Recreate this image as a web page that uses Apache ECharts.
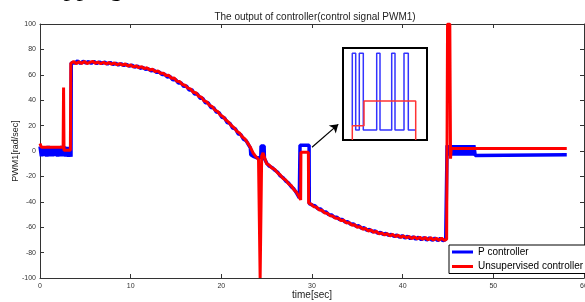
<!DOCTYPE html>
<html lang="en">
<head>
    <meta charset="UTF-8">
    <title>The output of controller</title>
    <script src="https://cdnjs.cloudflare.com/ajax/libs/echarts/6.0.0/echarts.min.js"></script>
    <style>
        * { margin: 0; padding: 0; }
        body { background: #fff; }
        #chart { width: 585px; height: 302px; }
    </style>
</head>
<body>
    <div id="chart"></div>
    <script>
        // x ticks / y ticks
        const xTicks = [0, 10, 20, 30, 40, 50, 60];
        const yTicks = [-100, -80, -60, -40, -20, 0, 20, 40, 60, 80, 100];

        // P controller output [time, PWM1]
        const pController = [
            [0, 3.5], [0.15, -4.2], [0.3, 3.8], [0.45, -4], [0.6, 3.6], [0.75, -4.3], [0.9, 3.9], [1.05, -4.1],
            [1.2, 3.5], [1.35, -4.2], [1.5, 3.7], [1.65, -4], [1.8, 3.8], [1.95, -4.3], [2.1, 3.6], [2.25, -4.1],
            [2.4, 3.9], [2.55, -4.2], [2.7, 3.5], [2.85, -4.4], [3.0, 3.2], [3.15, -4.6], [3.3, 3.0], [3.42, -4.5],
            [3.45, 69.5], [3.55, 70.8], [3.85, 69.3], [4.15, 70.9], [4.45, 68.9], [4.75, 70.6], [5.05, 69.4],
            [5.35, 70.3], [5.65, 69.0], [5.95, 70.5], [6.25, 68.9], [6.55, 70.1], [6.85, 69.0], [7.15, 69.9],
            [7.45, 68.5], [7.75, 69.7], [8.05, 68.2], [8.35, 69.0], [8.65, 67.8], [8.95, 68.7], [9.25, 67.4],
            [9.55, 68.2], [9.85, 66.9], [10.15, 67.5], [10.45, 66.1], [10.75, 66.8], [11.05, 65.2], [11.35, 65.8],
            [11.65, 64.3], [11.95, 64.7], [12.25, 63.2], [12.55, 63.6], [12.85, 61.9], [13.15, 62.2], [13.45, 60.3],
            [13.75, 60.5], [14.05, 58.3], [14.35, 58.6], [14.65, 56.0], [14.95, 56.3], [15.25, 53.6], [15.55, 53.8],
            [15.85, 50.9], [16.15, 51.1], [16.45, 48.0], [16.75, 48.2], [17.05, 44.9], [17.35, 45.0], [17.65, 41.6],
            [17.95, 41.5], [18.25, 38.0], [18.55, 37.9], [18.85, 34.3], [19.15, 34.1], [19.45, 30.6], [19.75, 30.2],
            [20.05, 26.6], [20.35, 26.1], [20.65, 22.4], [20.95, 21.8], [21.25, 18.0], [21.55, 17.5], [21.85, 13.6],
            [22.15, 12.9], [22.45, 9.2], [22.75, 8.0], [23.05, 4.2], [23.2, 2.5], [23.25, -3], [23.6, -4.5],
            [24.0, -5.5], [24.35, -5], [24.38, 4], [24.72, 4], [24.75, -6], [25.0, -9.5], [25.3, -12.0],
            [25.6, -13.0], [25.9, -15.1], [26.2, -16.6], [26.5, -19.6], [26.8, -21.0], [27.1, -23.6], [27.4, -25.1],
            [27.7, -28.0], [28.0, -29.8], [28.3, -33.2], [28.6, -36.8], [28.66, -38], [28.68, 4.5], [29.68, 4.5],
            [29.7, -41.5], [30.05, -42.6], [30.35, -43.3], [30.65, -45.4], [30.95, -45.7], [31.25, -47.8],
            [31.55, -48.1], [31.85, -50.1], [32.15, -50.3], [32.45, -52.2], [32.75, -52.2], [33.05, -54.0],
            [33.35, -53.9], [33.65, -55.9], [33.95, -55.7], [34.25, -57.6], [34.55, -57.4], [34.85, -59.3],
            [35.15, -58.9], [35.45, -60.9], [35.75, -60.4], [36.05, -62.4], [36.35, -61.8], [36.65, -63.6],
            [36.95, -62.9], [37.25, -64.8], [37.55, -64.0], [37.85, -65.7], [38.15, -64.9], [38.45, -66.5],
            [38.75, -65.6], [39.05, -67.2], [39.35, -66.2], [39.65, -67.9], [39.95, -66.7], [40.25, -68.5],
            [40.55, -67.2], [40.85, -69.0], [41.15, -67.6], [41.45, -69.4], [41.75, -67.9], [42.05, -69.8],
            [42.35, -68.2], [42.65, -70.1], [42.95, -68.4], [43.25, -70.3], [43.55, -68.6], [43.85, -70.5],
            [44.15, -68.8], [44.45, -70.6], [44.75, -69.6], [44.9, 4.5],
            [45.0, -3.5], [45.15, 4.5], [45.3, -3.5], [45.45, 4.5], [45.6, -3.5], [45.75, 4.5], [45.9, -3.5],
            [46.05, 4.5], [46.2, -3.5], [46.35, 4.5], [46.5, -3.5], [46.65, 4.5], [46.8, -3.5], [46.95, 4.5],
            [47.1, -3.5], [47.25, 4.5], [47.4, -3.5], [47.55, 4.5], [47.7, -3.5], [47.85, 4.5], [48.0, -3.5],
            [48.1, -2.9], [58.1, -2.9]
        ];

        // Unsupervised controller output [time, PWM1]
        const unsupervised = [
            [0, 6], [0.15, 3], [2.55, 3], [2.6, 50], [2.65, 0.5], [3.35, 0.5],
            [3.4, 69], [3.7, 70.5], [4.0, 68.8], [4.3, 70.2], [4.6, 69.0], [4.9, 70.4], [5.2, 68.9], [5.5, 69.8],
            [5.8, 70.6], [6.1, 69.1], [6.4, 70.0], [6.7, 68.7], [7.0, 69.9], [7.3, 68.6], [7.6, 69.6], [7.9, 68.3],
            [8.2, 69.4], [8.5, 67.9], [8.8, 68.8], [9.1, 67.6], [9.4, 68.5], [9.7, 66.9], [10.0, 67.8], [10.3, 66.2],
            [10.6, 67.1], [10.9, 65.6], [11.2, 66.4], [11.5, 64.9], [11.8, 65.5], [12.1, 63.8], [12.4, 64.4],
            [12.7, 62.5], [13.0, 63.1], [13.3, 61.2], [13.6, 61.3], [13.9, 59.4], [14.2, 59.6], [14.5, 57.2],
            [14.8, 57.4], [15.1, 55.0], [15.4, 54.8], [15.7, 52.4], [16.0, 51.8], [16.3, 49.5], [16.6, 48.9],
            [16.9, 46.3], [17.2, 45.9], [17.5, 43.1], [17.8, 42.4], [18.1, 39.5], [18.4, 38.6], [18.7, 35.9],
            [19.0, 34.9], [19.3, 32.2], [19.6, 31.1], [19.9, 28.3], [20.2, 27.0], [20.5, 24.4], [20.8, 22.7],
            [21.1, 20.1], [21.4, 18.4], [21.7, 15.6], [22.0, 14.2], [22.3, 11.2], [22.6, 9.5], [22.9, 6.4],
            [23.2, 3.0], [23.5, -1.5], [23.8, -4.5], [24.1, -6.5], [24.25, -8], [24.28, -100], [24.4, -100],
            [24.45, -4], [24.6, -1.5], [24.75, -5], [25.0, -10], [25.3, -11.2], [25.6, -13.5], [25.9, -14.4],
            [26.2, -17.2], [26.5, -18.9], [26.8, -21.6], [27.1, -22.8], [27.4, -25.7], [27.7, -27.1], [28.0, -30.4],
            [28.3, -32.6], [28.6, -36.5], [28.75, -38.5], [28.78, -1], [29.6, -1], [29.63, -41], [29.9, -41.8],
            [30.2, -43.9], [30.5, -44.2], [30.8, -46.4], [31.1, -46.7], [31.4, -48.8], [31.7, -49.0], [32.0, -51.0],
            [32.3, -51.2], [32.6, -53.0], [32.9, -52.9], [33.2, -54.8], [33.5, -54.6], [33.8, -56.7], [34.1, -56.4],
            [34.4, -58.4], [34.7, -58.0], [35.0, -60.1], [35.3, -59.6], [35.6, -61.6], [35.9, -61.0], [36.2, -63.0],
            [36.5, -62.2], [36.8, -64.1], [37.1, -63.3], [37.4, -65.2], [37.7, -64.5], [38.0, -66.1], [38.3, -65.0],
            [38.6, -66.8], [38.9, -65.7], [39.2, -67.4], [39.5, -66.3], [39.8, -68.0], [40.1, -66.8], [40.4, -68.4],
            [40.7, -67.3], [41.0, -68.9], [41.3, -67.6], [41.6, -69.2], [41.9, -67.9], [42.2, -69.6], [42.5, -68.1],
            [42.8, -70.0], [43.1, -68.3], [43.4, -70.1], [43.7, -68.6], [44.0, -70.3], [44.3, -68.7], [44.6, -70.4],
            [44.85, -69.5], [44.95, 100], [45.2, 100], [45.28, -6], [45.35, 2], [58.1, 2]
        ];

        // zoomed detail shown in the inset (relative units)
        const insetP = [
            [9.3, 0.155], [9.3, 0.942], [12.7, 0.942], [12.7, 0.109], [16.3, 0.109], [16.3, 0.942], [20.3, 0.942],
            [20.3, 0.109], [33.7, 0.109], [33.7, 0.942], [37, 0.942], [37, 0.109], [48.7, 0.109], [48.7, 0.942],
            [52, 0.942], [52, 0.109], [61, 0.109], [61, 0.942], [65.3, 0.942], [65.3, 0.109], [72, 0.109]
        ];
        const insetU = [[9.3, 0], [9.3, 0.155], [21, 0.155], [21, 0.424], [72.7, 0.424], [72.7, 0]];

        // arrow pointing at the inset
        const arrowFrom = [30.0, 3];
        const arrowTo = [32.9, 21];

        const font = 'Arial, "Liberation Sans", sans-serif';
        const chart = echarts.init(document.getElementById('chart'));

        const mainX = (pos, labels) => ({
            type: 'value', gridIndex: 0, position: pos,
            min: xTicks[0], max: xTicks[xTicks.length - 1], interval: 10,
            axisLine: { show: true, onZero: false, lineStyle: { color: '#333', width: 1 } },
            axisTick: { show: true, inside: true, length: 4, lineStyle: { color: '#333' } },
            axisLabel: { show: labels, fontSize: 7, color: '#333', margin: 5, fontFamily: font },
            splitLine: { show: false }
        });
        const mainY = (pos, labels) => ({
            type: 'value', gridIndex: 0, position: pos,
            min: yTicks[0], max: yTicks[yTicks.length - 1], interval: 20,
            axisLine: { show: true, onZero: false, lineStyle: { color: '#333', width: 1 } },
            axisTick: { show: true, inside: true, length: 4, lineStyle: { color: '#333' } },
            axisLabel: { show: labels, fontSize: 7, color: '#333', margin: 4, fontFamily: font },
            splitLine: { show: false }
        });

        const xMain = mainX('bottom', true);
        xMain.name = 'time[sec]';
        xMain.nameLocation = 'middle';
        xMain.nameGap = 12;
        xMain.nameMoveOverlap = false;
        xMain.nameTextStyle = { fontSize: 10, color: '#222', fontFamily: font };
        const yMain = mainY('left', true);
        yMain.name = 'PWM1[rad/sec]';
        yMain.nameLocation = 'middle';
        yMain.nameGap = 20;
        yMain.nameMoveOverlap = false;
        yMain.nameTextStyle = { fontSize: 9, color: '#222', fontFamily: font };

        chart.setOption({
            animation: false,
            backgroundColor: '#fff',
            title: {
                text: 'The output of controller(control signal PWM1)',
                left: 310, top: 7, textAlign: 'center',
                textStyle: { fontSize: 10, fontWeight: 'normal', color: '#222', fontFamily: font }
            },
            graphic: [{
                type: 'text', left: 52, top: -24,
                style: { text: 'apping', fontSize: 26, fontFamily: '"Liberation Serif", serif', fill: '#000' }
            }],
            legend: {
                data: ['P controller', 'Unsupervised controller'],
                orient: 'vertical', left: 449, top: 245,
                padding: [1, 3, 1, 3], itemGap: 2.5,
                itemWidth: 21, itemHeight: 3, icon: 'rect',
                backgroundColor: '#fff', borderColor: '#000', borderWidth: 1,
                textStyle: { fontSize: 10, color: '#000', lineHeight: 12, fontFamily: font }
            },
            grid: [
                { left: 40, top: 24, right: 1, bottom: 24, show: false, outerBoundsMode: 'none', containLabel: false },
                { left: 343, top: 48, width: 84, height: 92, show: true, borderColor: '#000', borderWidth: 2,
                  backgroundColor: '#fff', z: 5, outerBoundsMode: 'none' }
            ],
            xAxis: [
                xMain,
                mainX('top', false),
                { type: 'value', gridIndex: 1, min: 0, max: 84, show: false }
            ],
            yAxis: [
                yMain,
                mainY('right', false),
                { type: 'value', gridIndex: 1, min: 0, max: 1, show: false }
            ],
            series: [
                {
                    name: 'P controller', type: 'line', xAxisIndex: 0, yAxisIndex: 0,
                    data: pController, showSymbol: false, symbol: 'none',
                    lineStyle: { color: '#0000ff', width: 3.5 }, itemStyle: { color: '#0000ff' }, z: 2
                },
                {
                    name: 'Unsupervised controller', type: 'line', xAxisIndex: 0, yAxisIndex: 0,
                    data: unsupervised, showSymbol: false, symbol: 'none',
                    lineStyle: { color: '#ff0000', width: 3 }, itemStyle: { color: '#ff0000' }, z: 3,
                    markLine: {
                        silent: true, symbol: ['none', 'arrow'], symbolSize: 8,
                        lineStyle: { color: '#000', width: 1.2, type: 'solid' },
                        label: { show: false },
                        data: [[{ coord: arrowFrom }, { coord: arrowTo }]]
                    }
                },
                {
                    name: 'P controller', type: 'line', xAxisIndex: 2, yAxisIndex: 2,
                    data: insetP, showSymbol: false, symbol: 'none', silent: true,
                    lineStyle: { color: '#3333ff', width: 1.5 }, z: 6
                },
                {
                    name: 'Unsupervised controller', type: 'line', xAxisIndex: 2, yAxisIndex: 2,
                    data: insetU, showSymbol: false, symbol: 'none', silent: true,
                    lineStyle: { color: '#ff3333', width: 1.5 }, z: 7
                }
            ]
        });
    </script>
</body>
</html>
